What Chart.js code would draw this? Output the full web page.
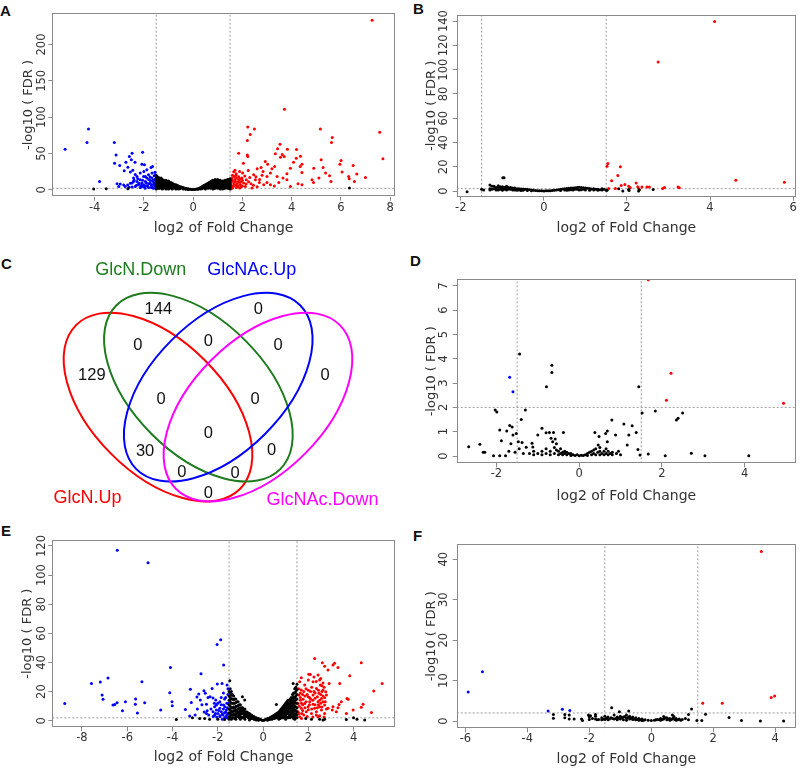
<!DOCTYPE html>
<html>
<head>
<meta charset="utf-8">
<script src="https://cdn.jsdelivr.net/npm/chart.js@4.4.1/dist/chart.umd.min.js"></script>
<style>
  body { margin: 0; background: #fff; width: 800px; height: 768px; position: relative; overflow: hidden; }
  canvas { position: absolute; }
  .tag { position: absolute; font: bold 15px/15px "Liberation Sans", Arial, sans-serif; color: #111; }
</style>
</head>
<body>
<div class="tag" style="left:0px;top:3px">A</div>
<div class="tag" style="left:413px;top:1px">B</div>
<div class="tag" style="left:1px;top:256px">C</div>
<div class="tag" style="left:410px;top:253px">D</div>
<div class="tag" style="left:1px;top:523px">E</div>
<div class="tag" style="left:413px;top:528px">F</div>

<canvas id="pA" width="400" height="240" style="left:0;top:0"></canvas>
<canvas id="pB" width="400" height="240" style="left:400px;top:0"></canvas>
<canvas id="pC" width="400" height="280" style="left:0;top:240px"></canvas>
<canvas id="pD" width="400" height="275" style="left:400px;top:240px"></canvas>
<canvas id="pE" width="400" height="248" style="left:0;top:520px"></canvas>
<canvas id="pF" width="400" height="248" style="left:400px;top:520px"></canvas>

<script>
// thresholds used in every volcano plot
const fcCut = [-1.5, 1.5];
const fdrCut = 2;

// ---- A ----
const aXTicks = [-4, -2, 0, 2, 4, 6, 8];
const aYTicks = [0, 50, 100, 150, 200];
const aUp = [[7.27,233.4],[7.58,79],[7.71,42.6],[3.71,110.8],[2.22,86.5],[2.49,83.8],[2.32,76],[2.2,67.7],[5.17,83.8],[5.65,71.9],[5.62,65],[3.53,62.7],[3.43,56.3],[3.83,55.8],[4.2,55.4],[3.62,48.5],[3.34,49.4],[3.55,44.9],[3.7,45.8],[4.36,46.2],[4.08,38],[4.19,43.5],[1.85,50.3],[2.2,48],[2.22,45.8],[2.04,36.6],[5.2,41.2],[4.9,29.7],[5.28,30.7],[5.96,35.2],[6.01,40.3],[6.5,33.4],[6.05,24.3],[6.65,21.5],[7.0,16.9],[6.55,11.4],[6.34,15.1],[5.6,11.4],[5.54,19.2],[5.38,22.9],[5.11,16],[4.89,10],[4.26,8.2],[4.42,23.8],[4.35,32],[4.42,35.2],[3.95,29.7],[3.81,22],[3.65,16],[3.48,10],[3.3,5],[3.81,13.7],[2.93,38.9],[3.03,35.2],[2.76,30.7],[2.84,25.2],[2.6,28.8],[2.46,20.6],[2.24,26.5],[2.01,22.9],[1.89,25.2],[1.74,20.1],[1.65,24.7],[3.14,22.9],[3.2,28.8],[3.31,32],[3.41,18.3],[3.0,18.3],[3.0,10],[2.69,10],[2.87,6.9],[2.53,13.7],[2.35,8.2],[2.16,13.7],[1.95,11.4],[2.39,2.3],[3.14,6.9],[1.58,13.7],[1.65,9.2],[1.72,11.4],[1.78,8.2],[1.85,13.7],[1.62,4.6],[1.81,4.6],[1.92,6.9],[1.67,18.3],[1.51,10],[1.55,4.6],[1.76,16],[1.98,16],[2.05,9.2],[1.6,2.3],[1.89,2.3],[2.12,4.6],[3.95,4.6],[4.42,6.9],[4.83,13.7],[6.32,18.3],[1.53,7],[1.57,16],[1.7,6.5],[1.75,3],[1.83,10.5],[1.9,15],[2.0,5],[1.6,12],
  [1.55,12],[1.6,20],[1.65,6],[1.7,14],[1.75,22],[1.8,6],[1.85,18],[1.9,10],[1.95,4],[2.0,13],[2.1,19],[2.15,8],[2.25,11],[2.3,17],[2.45,6],[2.55,18],[2.7,14],[2.8,20],[1.55,1.5],[1.7,27],[2.6,4]];
const aDown = [[-5.2,55.8],[-4.25,83.8],[-4.31,65],[-3.2,65],[-3.13,48],[-3.19,36.6],[-2.98,33.4],[-3.8,11.4],[-2.48,50.3],[-2.59,45.8],[-2.05,51.7],[-2.73,38],[-2.51,41.2],[-2.36,38],[-2.65,31.1],[-2.8,26.1],[-2.55,24.3],[-2.08,35.2],[-1.98,34.3],[-1.88,27.5],[-1.71,30.7],[-1.65,32],[-2.15,22.9],[-2.28,18.3],[-2.42,16],[-2.01,18.3],[-1.81,20.6],[-1.67,22.9],[-1.58,19.2],[-3.09,8.2],[-2.96,7.8],[-2.82,6.4],[-2.66,6.4],[-3.02,4.6],[-2.76,4.6],[-2.48,9.2],[-2.42,11.4],[-2.28,11.4],[-2.22,6.9],[-2.15,13.7],[-2.08,9.2],[-2.01,4.6],[-1.94,11.4],[-1.88,16],[-1.81,8.2],[-1.74,12.8],[-1.67,4.6],[-1.6,10],[-1.54,14.6],[-1.58,6.9],[-1.81,3.2],[-2.15,3.2],[-1.94,18.3],[-1.67,16],[-1.54,20.6],[-2.35,4.6],[-2.48,3.7],[-1.55,2.5],[-1.7,7],[-1.9,5.5],[-2.1,6],[-1.62,13],
  [-1.55,4],[-1.6,7.5],[-1.65,12],[-1.7,3],[-1.75,9],[-1.8,14],[-1.85,5],[-1.9,9.5],[-1.95,2],[-2.0,7],[-2.05,13],[-2.1,4],[-2.2,9],[-2.25,15],[-2.3,6],[-2.4,13],[-2.55,9],[-2.6,3.5],[-1.55,24],[-1.75,17.5],[-2.0,25],[-2.35,21],[-2.45,27],[-1.62,2]];
const aNs = [[-4.04,0.9],[-3.53,1.4],[-2.65,1.4],[6.35,2.3],
  [-1.5,20],[-1.5,16],[-1.5,12],[-1.5,8],[-1.5,4],[-1.5,1],[-1.45,18],[-1.45,13],[-1.45,9],[-1.45,6],[-1.45,2],
  [-1.4,17],[-1.4,14],[-1.4,10],[-1.4,6],[-1.4,2],[-1.35,15],[-1.35,11],[-1.35,7],[-1.35,4],[-1.3,16],[-1.3,12],[-1.3,8],[-1.3,3],
  [-1.25,14],[-1.25,9],[-1.25,5],[-1.25,1],[-1.2,13],[-1.2,10],[-1.2,6],[-1.2,2],[-1.15,12],[-1.15,8],[-1.15,3],
  [-1.1,13],[-1.1,9],[-1.1,5],[-1.1,1],[-1.05,11],[-1.05,7],[-1.05,3],[-1,12],[-1,8],[-1,4],[-1,1],
  [-0.95,10],[-0.95,6],[-0.95,2],[-0.9,10],[-0.9,7],[-0.9,3],[-0.85,9],[-0.85,5],[-0.85,1],[-0.8,8],[-0.8,5],[-0.8,2],
  [-0.75,7],[-0.75,3],[-0.7,7],[-0.7,4],[-0.7,1],[-0.65,6],[-0.65,2],[-0.6,5],[-0.6,3],[-0.6,1],[-0.55,4],[-0.55,1.5],
  [-0.5,4],[-0.5,2],[-0.45,3],[-0.4,3],[-0.4,1],[-0.35,2],[-0.3,2],[-0.3,0.6],[-0.25,1.5],[-0.2,1.2],[-0.2,0.3],[-0.15,0.8],[-0.1,0.6],[-0.05,0.3],[0,0.2],
  [0.05,0.3],[0.1,0.6],[0.15,1],[0.2,1.5],[0.2,0.5],[0.25,2],[0.3,3],[0.3,1],[0.35,4],[0.35,1.5],[0.4,5],[0.4,2],[0.45,6],[0.45,3],
  [0.5,7],[0.5,3],[0.5,1],[0.55,8],[0.55,4],[0.6,9],[0.6,5],[0.6,2],[0.65,10],[0.65,6],[0.65,3],[0.7,11],[0.7,6],[0.7,2],
  [0.75,12],[0.75,8],[0.75,4],[0.8,13],[0.8,8],[0.8,4],[0.8,1],[0.85,13],[0.85,10],[0.85,6],[0.85,2],[0.9,14],[0.9,10],[0.9,5],[0.9,2],
  [0.95,13],[0.95,9],[0.95,6],[0.95,3],[1,14],[1,9],[1,5],[1,2],[1.05,12],[1.05,7],[1.05,3],[1.1,13],[1.1,8],[1.1,4],[1.1,1],
  [1.15,11],[1.15,7],[1.15,3],[1.2,12],[1.2,7],[1.2,3],[1.2,1],[1.25,12],[1.25,8],[1.25,4],[1.3,13],[1.3,9],[1.3,5],[1.3,2],
  [1.35,13],[1.35,8],[1.35,3],[1.4,14],[1.4,10],[1.4,6],[1.4,2],[1.45,14],[1.45,9],[1.45,4],[1.5,15],[1.5,11],[1.5,7],[1.5,3],[1.5,1],
  [-1.5,18],[-1.5,14],[-1.5,10],[-1.5,6],[-1.5,2.5],[-1.45,15.5],[-1.45,11],[-1.45,4],[-1.4,12],[-1.4,8],[-1.4,4],[-1.35,13],[-1.35,9],[-1.35,2],
  [-1.3,14],[-1.3,10],[-1.3,5.5],[-1.25,11.5],[-1.25,7],[-1.25,3],[-1.2,11.5],[-1.2,8],[-1.2,4],[-1.15,10],[-1.15,5.5],[-1.1,11],[-1.1,7],[-1.1,3],
  [-1.05,9],[-1.05,5],[-1,10],[-1,6],[-1,2.5],[-0.95,8],[-0.95,4],[-0.9,8.5],[-0.9,5],[-0.85,7],[-0.85,3],[-0.8,6.5],[-0.75,5],[-0.7,5.5],[-0.7,2.5],
  [-0.65,4],[-0.6,4],[0.6,7],[0.65,8],[0.7,9],[0.7,4],[0.75,10],[0.75,6],[0.8,11],[0.8,6],[0.85,12],[0.85,8],[0.85,4],[0.9,12],[0.9,8],[0.9,3.5],
  [0.95,11],[0.95,7.5],[1,12],[1,7],[1,3.5],[1.05,10],[1.05,5],[1.1,11],[1.1,6],[1.1,2.5],[1.15,9],[1.15,5],[1.2,10],[1.2,5],[1.25,10],[1.25,6],
  [1.25,2],[1.3,11],[1.3,7],[1.3,3.5],[1.35,11],[1.35,6],[1.4,12],[1.4,8],[1.4,4],[1.45,12],[1.45,7],[1.45,2],[1.5,13],[1.5,9],[1.5,5]];

// ---- B ----
const bXTicks = [-2, 0, 2, 4, 6];
const bYTicks = [0, 20, 40, 60, 80, 100, 120, 140];
const bUp = [[4.11,139.7],[2.75,106.4],[4.62,9],[5.79,7.4],[1.54,22.7],[1.52,20.5],[1.84,20],[1.78,12.9],[1.63,8.5],[1.86,4.6],[1.95,5.5],[2.22,6.6],[2.04,4.1],[2.26,3.6],[2.36,3.3],[2.48,3.3],[2.54,3.3],[2.86,2.2],[3.23,3.3],[3.26,2.7],[1.72,2.2],[1.56,2.2],[2.08,2.7],[2.28,2.2],[2.9,3]];
const bDown = [];
const bNs = [[-1.85,-0.5],[-1.5,1.5],[-1.45,1.0],[-0.99,10.9],[-0.96,11],
  [-1.3,5],[-1.3,2],[-1.3,1],[-1.25,4],[-1.25,1.5],[-1.2,4],[-1.2,2],[-1.15,3],[-1.15,1],[-1.1,4.5],[-1.1,3],[-1.1,1],[-1.05,3.5],[-1.05,1.5],
  [-1,3.5],[-1,2],[-1,0.8],[-0.95,3],[-0.95,1.5],[-0.9,4],[-0.9,2.5],[-0.9,1],[-0.85,3],[-0.85,1.5],[-0.8,3],[-0.8,1.5],[-0.75,2.5],[-0.75,1],
  [-0.7,2.5],[-0.7,1],[-0.65,2],[-0.65,0.8],[-0.6,2],[-0.6,1],[-0.55,1.8],[-0.55,0.6],[-0.5,1.8],[-0.5,0.8],[-0.45,1.5],[-0.4,1.5],[-0.4,0.5],
  [-0.35,1.2],[-0.3,1],[-0.3,0.4],[-0.25,0.8],[-0.2,0.6],[-0.15,0.4],[-0.1,0.3],[-0.05,0.2],[0,0.1],[0.05,0.2],[0.1,0.3],[0.15,0.4],[0.2,0.6],
  [0.25,0.8],[0.3,1],[0.35,1.2],[0.4,1.5],[0.4,0.5],[0.45,1.8],[0.5,2],[0.5,1],[0.55,2.2],[0.55,0.8],[0.6,2.3],[0.6,1],[0.65,2.5],[0.65,1.2],
  [0.7,2.5],[0.7,1],[0.75,2.8],[0.75,1.5],[0.8,3],[0.8,1.5],[0.85,3.2],[0.85,1],[0.9,3],[0.9,1.2],[0.95,2.8],[0.95,1.5],[1,2.5],[1,1],
  [1.05,2.3],[1.1,2.2],[1.1,0.8],[1.15,1.8],[1.2,2],[1.2,1],[1.25,1.5],[1.3,1.5],[1.3,0.8],[1.35,1.2],[1.4,2],[1.4,1],[1.45,1.5],[1.5,0.8],
  [1.52,0.8],[1.8,1.9],[1.9,0],[2.04,1.4],[2.28,0],[2.63,1.4],[2.05,0.5],[2.3,1.2]];

// ---- C (Venn) ----
const vennSets = ['GlcN.Up', 'GlcN.Down', 'GlcNAc.Up', 'GlcNAc.Down'];
const vennColors = ['#ff0000', '#1e7b1e', '#0000ff', '#ff00ff'];
const vennCounts = [144, 129, 0, 0, 0, 0, 0, 0, 0, 0, 30, 0, 0, 0, 0];

// ---- D ----
const dXTicks = [-2, 0, 2, 4];
const dYTicks = [0, 1, 2, 3, 4, 5, 6, 7];
const dUp = [[1.67,7.25],[2.22,3.4],[2.11,2.29],[4.94,2.17]];
const dDown = [[-1.68,3.24],[-1.6,2.64]];
const dNs = [[-1.44,4.2],[-0.66,3.73],[-0.66,3.44],[-0.79,2.85],[1.44,2.85],[-2.03,1.89],[-1.99,1.81],[-1.3,1.89],[-1.4,1.5],[0.79,1.48],[1.52,1.77],[1.84,1.85],[2.5,1.77],[2.39,1.55],[2.35,1.48],[1.08,1.32],[1.28,1.24],[1.38,0.97],
  [-1.92,1.07],[-1.88,0.63],[-1.68,1.25],[-1.62,1.19],[-1.75,1.03],[-1.6,0.86],[-1.52,0.93],[-1.47,0.59],[-1.38,0.56],[-1.14,0.52],[-1.12,0.37],[-1.28,0.36],
  [-1.0,0.86],[-0.9,1.14],[-0.8,0.96],[-0.72,0.97],[-0.62,0.97],[-0.68,0.73],[-0.64,0.59],[-0.58,0.7],[-0.38,0.97],[-2.67,0.38],[-2.4,0.48],[-2.32,0.15],[-2.28,0.15],
  [-2.07,0.01],[-1.92,0.01],[-1.78,0.01],[0.38,0.97],[0.48,0.8],[0.46,0.45],[0.68,1.03],[0.64,0.93],[0.88,0.86],[0.68,0.59],[1.2,0.86],[1.16,0.45],[1.42,0.27],
  [1.47,0.04],[1.67,0.08],[2.08,0.01],[2.71,0.11],[3.04,0.01],[4.1,0.01],[-1.7,0.2],[-1.55,0.15],[-1.35,0.1],[-1.65,0.5],[-1.45,0.3],
  [-1.2,0.1],[-1.1,0.05],[-1.1,0.2],[-1,0.1],[-0.9,0.05],[-0.9,0.2],[-0.8,0.1],[-0.8,0.3],[-0.7,0.05],[-0.7,0.2],[-0.6,0.1],[-0.6,0.35],
  [-0.55,0.25],[-0.55,0.5],[-0.5,0.05],[-0.5,0.2],[-0.45,0.1],[-0.45,0.3],[-0.4,0.05],[-0.4,0.15],[-0.35,0.1],[-0.35,0.2],[-0.3,0.05],[-0.3,0.15],
  [-0.25,0.1],[-0.2,0.02],[-0.2,0.1],[-0.15,0.05],[-0.1,0.02],[-0.05,0.05],[0,0.01],[0.05,0.03],[0.1,0.02],[0.15,0.05],[0.2,0.1],[0.2,0.02],
  [0.25,0.15],[0.3,0.05],[0.3,0.2],[0.35,0.1],[0.35,0.25],[0.4,0.05],[0.4,0.3],[0.45,0.15],[0.5,0.05],[0.5,0.2],[0.5,0.35],[0.55,0.1],
  [0.6,0.05],[0.6,0.2],[0.65,0.1],[0.65,0.3],[0.7,0.05],[0.7,0.2],[0.75,0.1],[0.8,0.05],[0.8,0.15],[0.9,0.1],[1.0,0.05],[0.95,0.2]];

// ---- E ----
const eXTicks = [-8, -6, -4, -2, 0, 2, 4];
const eYTicks = [0, 20, 40, 60, 80, 100, 120];
const eUp = [[2.28,42.8],[2.62,39.8],[2.72,37.5],[3.09,38.2],[3.16,39.4],[3.31,36.6],[4.34,39.8],[3.83,30.9],[5.26,25.6],[4.89,20.4],[2.09,31.8],[2.02,32],[1.69,29.5],[1.62,26.8],[2.43,31.4],[2.5,27.9],[2.87,34.8],[3.39,25.6],[2.92,25.6],[3.76,14.7],[3.71,15.3],[3.36,11.2],[3.31,8.9],[4.42,11.4],[4.34,9.2],[3.98,7.3],[4.79,5.7],[3.09,9.6],[3.06,7.3],[2.87,8.5],[2.58,7.3],[2.72,10.8],[1.69,21.1],[1.84,24.5],[2.21,26.8],[2.36,22.2],[2.53,24.5],[2.65,21.1],[2.77,19.9],[2.47,18.8],[2.21,17.6],[1.99,16.5],[1.77,14.7],[1.59,17.6],[2.58,15.3],[2.72,15.8],[2.43,13],[2.21,11.4],[1.99,9.6],[1.69,8.5],[1.55,6.2],[1.8,3.9],[2.14,5],[2.36,6.2],[2.65,13],[2.8,17.6],[1.55,11.9],[1.91,6.2],[2.28,8.5],[2.06,13],[1.84,11.9],[2.5,9.6],[2.72,5],[2.43,2.7],[1.62,2.7],[3.68,5],[3.24,6.2],[3.46,13],[1.75,18],[2.0,21],[2.3,19],[2.55,12],[1.65,14],[1.95,3],[2.1,15],[2.6,24],[1.72,5],[2.4,16.5],[1.58,22],
  [1.6,10],[1.65,16],[1.7,12],[1.75,7],[1.8,20],[1.85,9],[1.9,13],[1.95,18],[2.0,7.5],[2.05,11],[2.1,20],[2.15,8],[2.2,14],[2.25,20],[2.3,11],[2.35,4],[2.4,9],[2.45,21],[2.5,14],[2.55,18],[2.6,9.5],[2.65,17],[2.7,23],[2.75,13],[2.8,8],[2.7,2.5],[1.6,5],[1.7,1.5],[1.85,17],[2.0,28],[2.25,30],[2.55,29],[2.65,26],[2.45,11],[2.35,27],[1.9,22],[1.75,11],[2.15,23],[2.6,20],[2.3,15.5],[2.05,16],[1.65,19],[2.2,2.5],[2.5,3.5]];
const eDown = [[-6.44,117],[-5.08,108.5],[-8.76,11.9],[-7.58,25.6],[-7.19,26.6],[-6.85,29.3],[-7.11,17.6],[-7.07,14.7],[-6.55,11.2],[-6.45,12.4],[-6.63,10.8],[-6.08,13],[-6.21,6.9],[-5.63,14.9],[-5.64,11.4],[-5.55,5.3],[-5.35,26.8],[-5.23,12.4],[-4.52,7.3],[-4.09,36.6],[-4.12,19.2],[-4.02,13],[-4.01,10.3],[-3.43,7.8],[-3.24,3.2],[-3.21,21.7],[-3.17,12.6],[-2.92,16.3],[-2.84,18.3],[-2.74,32.3],[-2.77,14.2],[-2.61,20.6],[-2.55,18.8],[-2.5,11.4],[-2.43,16],[-2.34,16.5],[-2.21,15.6],[-2.25,22.2],[-2.47,6.9],[-2.5,5],[-2.03,52.4],[-1.87,55.6],[-1.74,38.2],[-1.81,25.6],[-2.02,25.2],[-1.59,24.5],[-2.09,14.2],[-1.91,13],[-2.14,9.6],[-2.21,6.2],[-2.14,3.9],[-2.06,7.3],[-1.99,5],[-1.91,8.5],[-1.84,6.2],[-1.77,3.9],[-1.69,9.6],[-1.62,7.3],[-1.55,5],[-1.74,10.8],[-1.91,2.7],[-1.65,2.7],[-2.06,10.8],[-1.58,8.9],[-1.8,1.1],[-1.6,12],[-1.7,15],[-1.55,18],
  [-1.55,12],[-1.6,4],[-1.65,6],[-1.7,2],[-1.75,8],[-1.8,4.5],[-1.85,11],[-1.9,3.5],[-1.95,7],[-2.0,12],[-2.05,2.5],[-2.1,5],[-2.15,12],[-2.2,3],[-2.3,8],[-2.4,4],[-2.6,6],[-2.7,11],[-2.9,8],[-3.0,4],[-1.55,22],[-1.65,16],[-1.75,19],[-1.85,16],[-1.6,2],[-1.7,5.5]];
const eNs = [[-3.83,0.9],[-3.12,2.1],[-2.8,1.6],[-2.58,1.6],[-2.36,1.1],[2.65,0.5],[2.72,1.1],[3.68,0.9],[4.0,2.1],[4.15,1.1],[4.49,0.5],[1.89,1.6],[2.14,1.1],[2.5,1.1],[-2.0,1],[-1.7,0.8],
  [-1.47,27.5],[-1.5,20],[-1.5,14],[-1.5,8],[-1.5,3],[-1.5,1],[-1.45,22],[-1.45,16],[-1.45,10],[-1.45,5],[-1.4,20],[-1.4,15],[-1.4,9],[-1.4,4],[-1.4,1],
  [-1.35,18],[-1.35,12],[-1.35,6],[-1.35,2],[-1.3,17],[-1.3,12],[-1.3,7],[-1.3,2],[-1.25,15],[-1.25,9],[-1.25,4],[-1.2,15],[-1.2,10],[-1.2,5],[-1.2,1],
  [-1.15,13],[-1.15,7],[-1.15,3],[-1.1,13],[-1.1,8],[-1.1,3],[-1.05,11],[-1.05,6],[-1.05,2],[-1,11],[-1,7],[-1,3],[-1,1],[-0.91,16.5],[-0.81,14.2],
  [-0.95,9],[-0.95,5],[-0.9,9],[-0.9,5],[-0.9,2],[-0.85,7],[-0.85,3],[-0.8,8],[-0.8,4],[-0.8,1],[-0.75,6],[-0.75,3],[-0.7,6],[-0.7,3],[-0.65,5],[-0.65,2],
  [-0.6,5],[-0.6,2],[-0.6,0.5],[-0.55,4],[-0.55,1.5],[-0.5,4],[-0.5,1.5],[-0.45,3],[-0.4,3],[-0.4,1],[-0.35,2],[-0.3,2],[-0.3,0.5],[-0.25,1.5],[-0.2,1.5],
  [-0.2,0.3],[-0.15,1],[-0.1,0.8],[-0.05,0.4],[0,0.3],[0.05,0.4],[0.1,0.8],[0.15,1],[0.2,1.5],[0.2,0.4],[0.25,1.5],[0.3,2],[0.3,0.8],[0.35,2.5],[0.4,3],
  [0.4,1],[0.45,3.5],[0.5,4],[0.5,1.5],[0.55,4.5],[0.55,2],[0.59,11.2],[0.6,5],[0.6,2],[0.65,5.5],[0.65,2.5],[0.7,6],[0.7,3],[0.7,1],[0.75,7],[0.75,3.5],
  [0.8,8],[0.8,4],[0.85,9],[0.85,5],[0.85,2],[0.9,10],[0.9,6],[0.9,2],[0.95,11],[0.95,7],[0.95,3],[1,12],[1,8],[1,4],[1,1],[1.05,13],[1.05,9],[1.05,5],
  [1.06,10.8],[1.1,14],[1.1,9],[1.1,5],[1.1,2],[1.15,14],[1.15,10],[1.15,6],[1.2,15],[1.2,11],[1.2,6],[1.2,2],[1.25,16],[1.25,12],[1.25,7],[1.25,3],
  [1.3,18],[1.3,13],[1.3,8],[1.3,3],[1.33,25.6],[1.35,19],[1.35,14],[1.35,9],[1.35,4],[1.4,22],[1.4,16],[1.4,10],[1.4,5],[1.4,1],[1.45,23],[1.45,17],
  [1.45,12],[1.45,7],[1.45,2],[1.5,25],[1.5,18],[1.5,12],[1.5,6],[1.5,2],
  [-1.5,17],[-1.5,11],[-1.5,5.5],[-1.45,19],[-1.45,13],[-1.45,7.5],[-1.45,2.5],[-1.4,17.5],[-1.4,12],[-1.4,6.5],[-1.35,15],[-1.35,9],[-1.35,4],
  [-1.3,14.5],[-1.3,9.5],[-1.3,4.5],[-1.25,12],[-1.25,6.5],[-1.25,1.5],[-1.2,12.5],[-1.2,7.5],[-1.2,3],[-1.15,10],[-1.15,5],[-1.1,10.5],[-1.1,5.5],
  [-1.05,8.5],[-1.05,4],[-1,9],[-1,5],[-0.95,7],[-0.95,2.5],[-0.9,7],[-0.85,5],[-0.8,6],[-0.8,2.5],[-0.75,4.5],[-0.7,4.5],[-0.65,3.5],[-0.55,2.8],
  [-0.5,2.8],[-0.45,1.5],[-0.35,1],[1.5,21.5],[1.5,15],[1.5,9],[1.5,4],[1.45,20],[1.45,14.5],[1.45,9.5],[1.45,4.5],[1.4,19],[1.4,13],[1.4,7.5],[1.4,3],
  [1.35,16.5],[1.35,11.5],[1.35,6.5],[1.35,1.5],[1.3,15.5],[1.3,10.5],[1.3,5.5],[1.25,14],[1.25,9.5],[1.25,5],[1.2,13],[1.2,8.5],[1.2,4],[1.15,12],
  [1.15,8],[1.15,3.5],[1.1,11.5],[1.1,7],[1.05,11],[1.05,7],[1.05,2.5],[1,10],[1,6],[1,2.5],[0.95,9],[0.95,5],[0.9,8],[0.9,4],[0.85,7],[0.85,3.5],
  [0.8,6],[0.8,2],[0.75,5],[0.75,1.5],[0.7,4.5],[0.65,4],[0.6,3.5],[0.55,3],[0.5,2.8],[0.45,2]];

// ---- F ----
const fXTicks = [-6, -4, -2, 0, 2, 4];
const fYTicks = [0, 10, 20, 30, 40];
const fUp = [[3.55,41.9],[1.66,4.4],[2.29,4.4],[3.87,5.8],[3.98,6.2]];
const fDown = [[-5.91,7.2],[-5.45,12.2],[-3.33,2.5],[-2.87,2.9],[-2.63,2.6]];
const fNs = [[-3.16,1.6],[-3.16,0.7],[-2.79,1.6],[-2.79,0.8],[-2.65,1.5],[-2.65,0.5],[-2.49,0.5],[-2.25,0.5],[-2.22,0.1],[-2.03,1.5],[-1.96,1.3],[-1.8,1.6],
  [-1.28,3.3],[-1.03,2.3],[-0.73,2.5],[1.3,3],[1.2,1.6],[1.75,1.7],[1.47,0.1],[1.63,0.1],[2.51,0.9],[2.91,0.1],[3.52,0],[4.27,0],[0.4,1.1],[0.68,1.5],[0.73,1.1],
  [-2,1],[-2,0.4],[-1.9,0.6],[-1.8,1.2],[-1.8,0.5],[-1.7,0.4],[-1.6,0.8],[-1.6,0.3],[-1.5,1.2],[-1.5,0.4],[-1.4,1],[-1.4,0.3],[-1.3,0.8],[-1.2,1.5],
  [-1.2,0.5],[-1.1,1],[-1.1,0.3],[-1,1.2],[-1,0.5],[-0.9,1],[-0.9,0.3],[-0.8,1.5],[-0.8,0.6],[-0.8,0.2],[-0.7,1.2],[-0.7,0.5],[-0.6,1],[-0.6,0.4],
  [-0.5,0.8],[-0.5,0.3],[-0.4,0.6],[-0.4,0.2],[-0.3,0.5],[-0.3,0.1],[-0.2,0.3],[-0.1,0.2],[0,0.1],[0.1,0.2],[0.2,0.4],[0.3,0.6],[0.3,0.2],[0.4,0.5],
  [0.5,0.8],[0.5,0.3],[0.6,0.6],[0.6,0.2],[0.7,0.7],[0.8,0.6],[0.8,0.2],[0.9,0.5],[1,0.4],[1.1,0.6],[1.2,0.3],
  [-0.95,0.8],[-0.85,1.1],[-0.75,0.9],[-0.65,0.7],[-0.55,0.5],[-0.45,0.4],[-0.35,0.3],[-0.25,0.2],[0.15,0.3],[0.25,0.3],[0.35,0.4],[0.45,0.8],[0.55,0.5],
  [0.65,0.4],[0.75,0.4],[0.85,0.3],[0.95,0.2],[-1.25,0.6],[-1.35,0.5],[-1.45,0.7],[-1.55,0.5],[-1.75,0.3],[-1.05,0.7],[-1.15,0.6]];

// ---------- drawing ----------
const FONT = '"DejaVu Sans", Verdana, sans-serif';
const TXT = '#333';
const AXIS = '#8a8a8a';
const pts = arr => arr.map(([x, y]) => ({ x, y }));

// R-style box and vertical y tick labels
const rStyle = {
  id: 'rStyle',
  afterDraw(chart, args, o) {
    const { ctx, chartArea: a, scales: { y } } = chart;
    ctx.save();
    ctx.strokeStyle = AXIS;
    ctx.lineWidth = 1;
    ctx.strokeRect(Math.round(a.left) + 0.5, Math.round(a.top) + 0.5,
      Math.round(a.right - a.left) - 1, Math.round(a.bottom - a.top) - 1);
    ctx.fillStyle = TXT;
    ctx.font = '11.5px ' + FONT;
    ctx.textAlign = 'center';
    ctx.textBaseline = 'middle';
    y.ticks.forEach(t => {
      ctx.save();
      ctx.translate(a.left - o.gap, y.getPixelForValue(t.value));
      ctx.rotate(-Math.PI / 2);
      ctx.fillText(String(t.value), 0, 0);
      ctx.restore();
    });
    ctx.restore();
  }
};

function volcano(id, up, down, ns, xTicks, yTicks, L) {
  const cutLine = data => ({
    data, showLine: true, pointRadius: 0, borderColor: '#9a9a9a',
    borderWidth: 1, borderDash: [2, 2], fill: false
  });
  const dot = (data, color) => ({
    data: pts(data), pointRadius: 1.5, pointBorderWidth: 0,
    backgroundColor: color, borderColor: color, showLine: false
  });
  const canvas = document.getElementById(id);
  new Chart(canvas, {
    type: 'scatter',
    data: {
      datasets: [
        dot(ns, '#000000'),
        dot(down, '#0000ff'),
        dot(up, '#ff0000'),
        cutLine([{ x: fcCut[0], y: L.yMin }, { x: fcCut[0], y: L.yMax }]),
        cutLine([{ x: fcCut[1], y: L.yMin }, { x: fcCut[1], y: L.yMax }]),
        cutLine([{ x: L.xMin, y: fdrCut }, { x: L.xMax, y: fdrCut }])
      ]
    },
    options: {
      responsive: false,
      animation: false,
      events: [],
      layout: { padding: { left: 0, top: L.top, right: canvas.width - L.right, bottom: 0 } },
      plugins: { legend: { display: false }, tooltip: { enabled: false }, rStyle: { gap: L.gap } },
      scales: {
        x: {
          type: 'linear', min: L.xMin, max: L.xMax,
          afterBuildTicks: s => { s.ticks = xTicks.map(v => ({ value: v })); },
          afterFit: s => { s.height = canvas.height - L.bottom; },
          border: { display: false },
          grid: { drawOnChartArea: false, drawTicks: true, tickLength: 4, color: AXIS },
          ticks: { padding: 0, color: TXT, font: { family: FONT, size: 11.5 } },
          title: { display: true, text: 'log2 of Fold Change', color: TXT,
            font: { family: FONT, size: 14 }, padding: { top: 0, bottom: L.xPad } }
        },
        y: {
          type: 'linear', min: L.yMin, max: L.yMax,
          afterBuildTicks: s => { s.ticks = yTicks.map(v => ({ value: v })); },
          afterFit: s => { s.width = L.left; },
          border: { display: false },
          grid: { drawOnChartArea: false, drawTicks: true, tickLength: 4, color: AXIS },
          ticks: { display: false },
          title: { display: true, text: '-log10 ( FDR )', color: TXT,
            font: { family: FONT, size: 13 }, padding: { top: L.yPad, bottom: 0 } }
        }
      }
    },
    plugins: [rStyle]
  });
}

volcano('pA', aUp, aDown, aNs, aXTicks, aYTicks,
  { xMin: -5.72, xMax: 8.2, yMin: -9.6, yMax: 243, left: 52.3, top: 13.3, right: 395, bottom: 196.7, xPad: 3.6, yPad: 20.5, gap: 10 });
volcano('pB', bUp, bDown, bNs, bXTicks, bYTicks,
  { xMin: -2.1, xMax: 6.07, yMin: -4.6, yMax: 145, left: 56.7, top: 15, right: 396.7, bottom: 196.7, xPad: 3.6, yPad: 23.7, gap: 12.5 });
volcano('pD', dUp, dDown, dNs, dXTicks, dYTicks,
  { xMin: -2.96, xMax: 5.24, yMin: -0.3, yMax: 7.27, left: 56.7, top: 39.3, right: 398, bottom: 223.3, xPad: 10.6, yPad: 23.7, gap: 12.5 });
volcano('pE', eUp, eDown, eNs, eXTicks, eYTicks,
  { xMin: -9.31, xMax: 5.83, yMin: -4.5, yMax: 124.1, left: 52.3, top: 20, right: 395, bottom: 207.3, xPad: 2.3, yPad: 20, gap: 10 });
volcano('pF', fUp, fDown, fNs, fXTicks, fYTicks,
  { xMin: -6.28, xMax: 4.67, yMin: -1.8, yMax: 43.7, left: 56.7, top: 24.3, right: 398, bottom: 208.3, xPad: 0.6, yPad: 23.7, gap: 12.5 });

// ---------- Venn ----------
const vennShape = { cx: [0.35, 0.472, 0.532, 0.652], cy: [0.47, 0.53, 0.53, 0.47], tilt: [45, 45, -45, -45], a: 0.35, b: 0.2 };
const vennLabelPos = [[0.137, 0.195], [0.298, 0.884], [0.633, 0.884], [0.847, 0.189]];
const vennCountPos = [[0.351, 0.766], [0.150, 0.564], [0.289, 0.657], [0.502, 0.667], [0.653, 0.766], [0.713, 0.657], [0.855, 0.564],
  [0.359, 0.493], [0.643, 0.493], [0.502, 0.391], [0.311, 0.337], [0.693, 0.340], [0.422, 0.272], [0.583, 0.270], [0.502, 0.209]];

const vennDraw = {
  id: 'vennDraw',
  afterDraw(chart) {
    const { ctx, scales: { x, y } } = chart;
    const sx = x.getPixelForValue(1) - x.getPixelForValue(0);
    const sy = y.getPixelForValue(0) - y.getPixelForValue(1);
    ctx.save();
    ctx.lineWidth = 2;
    vennSets.forEach((name, i) => {
      ctx.save();
      ctx.translate(x.getPixelForValue(vennShape.cx[i]), y.getPixelForValue(vennShape.cy[i]));
      ctx.scale(sx, sy);
      ctx.rotate(vennShape.tilt[i] * Math.PI / 180);
      ctx.beginPath();
      ctx.ellipse(0, 0, vennShape.a, vennShape.b, 0, 0, Math.PI * 2);
      ctx.restore();
      ctx.strokeStyle = vennColors[i];
      ctx.stroke();
    });
    ctx.textAlign = 'center';
    ctx.textBaseline = 'middle';
    ctx.font = '18px "Liberation Sans", Arial, sans-serif';
    vennSets.forEach((name, i) => {
      ctx.fillStyle = vennColors[i];
      ctx.fillText(name, x.getPixelForValue(vennLabelPos[i][0]), y.getPixelForValue(vennLabelPos[i][1]));
    });
    ctx.font = '16.5px "Liberation Sans", Arial, sans-serif';
    ctx.fillStyle = '#111';
    vennCounts.forEach((n, i) => {
      ctx.fillText(String(n), x.getPixelForValue(vennCountPos[i][0]), y.getPixelForValue(vennCountPos[i][1]));
    });
    ctx.restore();
  }
};

new Chart(document.getElementById('pC'), {
  type: 'scatter',
  data: { datasets: [{ data: [] }] },
  options: {
    responsive: false,
    animation: false,
    events: [],
    layout: { padding: 0 },
    plugins: { legend: { display: false }, tooltip: { enabled: false } },
    scales: {
      x: { display: false, min: -0.1273, max: 1.0811 },
      y: { display: false, min: 0.1287, max: 0.9746 }
    }
  },
  plugins: [vennDraw]
});
</script>
</body>
</html>
